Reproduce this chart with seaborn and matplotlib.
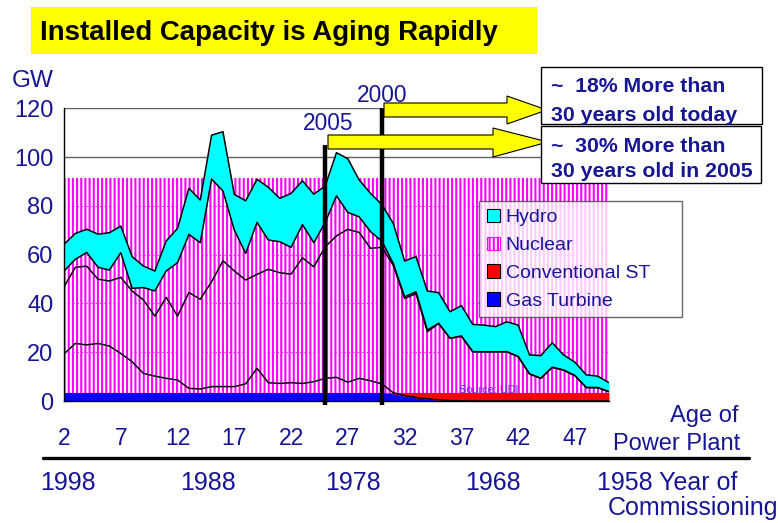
import matplotlib
matplotlib.use("Agg")
import matplotlib.pyplot as plt
import seaborn as sns
import pandas as pd
from matplotlib.patches import Patch, Polygon, Rectangle
from matplotlib.lines import Line2D

# age of power plant (years) -> capacity in GW
ages = list(range(2, 51))
hydro_top = [64.2, 68.7, 70.4, 68.4, 69.0, 71.7, 59.2, 55.3, 53.3, 65.6,
             70.8, 87.2, 82.4, 109.0, 110.4, 84.7, 82.1, 90.9, 87.6, 83.1,
             85.1, 90.3, 84.8, 88.1, 101.8, 99.3, 90.6, 85.1, 80.5, 72.8,
             57.4, 59.2, 45.1, 44.4, 36.6, 39.1, 31.4, 31.1, 30.5, 32.5,
             31.1, 18.9, 18.6, 23.9, 18.9, 15.9, 10.7, 10.2, 7.5]
hydro_bottom = [53.3, 58.1, 60.9, 54.8, 53.7, 60.8, 46.2, 46.5, 45.1, 53.3,
                56.7, 68.3, 64.9, 91.0, 86.1, 70.1, 60.5, 73.2, 66.0, 65.3,
                63.0, 72.3, 64.9, 73.2, 84.1, 77.3, 75.5, 69.4, 65.5, 56.4,
                42.7, 44.8, 29.1, 31.8, 25.7, 26.6, 20.2, 20.2, 20.2, 20.2,
                18.2, 11.1, 9.3, 13.8, 12.7, 10.4, 5.5, 5.5, 3.8]
mid_line = [46.8, 54.8, 55.3, 49.9, 49.2, 50.7, 45.1, 41.4, 34.8, 42.5,
            34.8, 44.5, 41.7, 48.9, 57.5, 53.3, 49.6, 51.9, 54.0, 52.6,
            52.0, 58.7, 55.0, 63.2, 67.7, 70.4, 69.1, 62.6, 63.0, 55.6,
            42.0, 44.0, 28.4, 31.8, 25.7, 26.6, 20.2, 20.2, 20.2, 20.2,
            18.2, 11.1, 9.3, 13.8, 12.7, 10.4, 5.5, 5.5, 3.8]
low_line = [19.3, 23.6, 23.0, 23.6, 22.5, 19.5, 16.1, 11.3, 10.2, 9.3,
            8.6, 5.2, 4.9, 5.9, 5.9, 5.9, 7.0, 13.4, 7.5, 7.2,
            7.5, 7.2, 7.9, 9.3, 9.7, 7.7, 9.3, 8.3, 7.0, 3.4,
            2.2, 1.4, 0.9, 0.5, 0.2, 0.1, 0, 0, 0, 0,
            0, 0, 0, 0, 0, 0, 0, 0, 0]
gas_band = [3.5, 3.5, 3.5, 3.5, 3.5, 3.5, 3.5, 3.5, 3.5, 3.5,
            3.5, 3.5, 3.5, 3.5, 3.5, 3.5, 3.5, 3.5, 3.5, 3.5,
            3.5, 3.5, 3.5, 3.5, 3.5, 3.5, 3.5, 3.5, 3.5, 3.0,
            2.0, 1.3, 0.8, 0.4, 0.1, 0, 0, 0, 0, 0,
            0, 0, 0, 0, 0, 0, 0, 0, 0]
conv_band = [3.5] * 49
nuclear_band = [91.5] * 49

age_ticks = [2, 7, 12, 17, 22, 27, 32, 37, 42, 47]
year_labels = ["1998", "1988", "1978", "1968"]
marker_ages = [25, 30]
marker_tops = [105, 120]
marker_years = ["2005", "2000"]
legend_labels = ["Hydro", "Nuclear", "Conventional ST", "Gas Turbine"]

df = pd.DataFrame({"age": ages, "hydro_top": hydro_top, "hydro_bottom": hydro_bottom,
                   "mid": mid_line, "low": low_line})

NAVY = "#161694"
MAG = "#ff00ff"

sns.set_style("white")
plt.rcParams["font.family"] = ["Liberation Sans", "DejaVu Sans"]
plt.rcParams["hatch.color"] = MAG
plt.rcParams["hatch.linewidth"] = 1.5

W, H = 778, 523
def fx(x):
    return x / W
def fy(y):
    return 1 - y / H

fig = plt.figure(figsize=(7.78, 5.23), dpi=100)
ax = fig.add_axes([fx(64), fy(401), (609 - 64) / W, (401 - 108.3) / H])

# nuclear hatch (drawn as a band behind everything)
ax.fill_between(ages, 0, nuclear_band, facecolor="white", edgecolor=MAG,
                hatch="||||", linewidth=0, zorder=1)
ax.hlines([20, 40, 60, 80], 2, 50, colors=MAG, linestyles=(0, (1, 3)), lw=0.8, zorder=1.2)
ax.fill_between(ages, hydro_bottom, hydro_top, color="#00ffff", lw=0, zorder=2)
ax.fill_between(ages, 0, gas_band, color="#0000ff", lw=0, zorder=2)
ax.fill_between(ages, gas_band, conv_band, color="#ff0000", lw=0, zorder=2)

for col in ["hydro_top", "hydro_bottom", "mid", "low"]:
    sns.lineplot(data=df, x="age", y=col, color="black", lw=1.1, ax=ax, zorder=3)

ax.vlines(marker_ages, -1.5, marker_tops, colors="black", lw=3.2, zorder=5, clip_on=False)

ax.set_xlim(2, 50)
ax.set_ylim(0, 120)
ax.set_xlabel("")
ax.set_ylabel("")
ax.set_xticks(age_ticks)
ax.set_xticklabels([str(a) for a in age_ticks])
ax.set_xticks(ages, minor=True)
ax.set_yticks([0, 20, 40, 60, 80, 100, 120])
ax.tick_params(axis="x", which="both", direction="out", length=4, width=1,
               color="#777777", pad=15, labelsize=16.5, labelcolor=NAVY)
ax.tick_params(axis="y", direction="out", length=4.5, width=1, color="black",
               pad=3, labelsize=17, labelcolor=NAVY)
ax.grid(axis="y", color="#606060", lw=1)
ax.set_axisbelow(True)
sns.despine(ax=ax)
for s in ["left", "bottom"]:
    ax.spines[s].set_color("black")
    ax.spines[s].set_linewidth(1)

fig.text(fx(489), fy(393), "Source: UDI", fontsize=7.8, color="#5a3cc8",
         ha="center", va="baseline", zorder=4)

# title
fig.add_artist(Rectangle((fx(31), fy(54)), (537 - 31) / W, (54 - 7) / H,
                         transform=fig.transFigure, facecolor="#ffff00", edgecolor="none"))
fig.text(fx(40), fy(40), "Installed Capacity is Aging Rapidly", fontsize=19.9,
         fontweight="bold", color="black", va="baseline")

fig.text(fx(12), fy(87), "GW", fontsize=17.5, color=NAVY, va="baseline")

# marker year labels
fig.text(fx(328), fy(130.5), marker_years[0], fontsize=16.4, color=NAVY, ha="center", va="baseline")
fig.text(fx(382), fy(101.5), marker_years[1], fontsize=16.4, color=NAVY, ha="center", va="baseline")

# arrows
arrow1 = [(384, 103), (507, 103), (507, 96), (547, 110), (507, 124), (507, 117), (384, 117)]
arrow2 = [(328, 135), (493, 135), (493, 128), (548, 142), (493, 157), (493, 149), (328, 149)]
for pts in [arrow1, arrow2]:
    fig.add_artist(Polygon([(fx(x), fy(y)) for x, y in pts], closed=True,
                           transform=fig.transFigure, facecolor="#ffff00",
                           edgecolor="black", lw=0.8, zorder=6))

# text boxes
for (x0, y0, x1, y1) in [(541, 67, 762, 124), (541, 126, 761, 183)]:
    fig.add_artist(Rectangle((fx(x0), fy(y1)), (x1 - x0) / W, (y1 - y0) / H,
                             transform=fig.transFigure, facecolor="white",
                             edgecolor="black", lw=1, zorder=6))
box_lines = [("~  18% More than", 92.3), ("30 years old today", 120.7),
             ("~  30% More than", 152.3), ("30 years old in 2005", 177.3)]
for txt, yb in box_lines:
    fig.text(fx(551), fy(yb), txt, fontsize=15.3, fontweight="bold", color=NAVY,
             va="baseline", zorder=7)

# legend
try:
    nuc_patch = Patch(facecolor="white", edgecolor="black", hatch="||||", hatchcolor=MAG, lw=0.8)
except Exception:
    nuc_patch = Patch(facecolor="white", edgecolor=MAG, hatch="||||", lw=0.8)
handles = [Patch(facecolor="#00ffff", edgecolor="black", lw=0.8), nuc_patch,
           Patch(facecolor="#ff0000", edgecolor="black", lw=0.8),
           Patch(facecolor="#0000ff", edgecolor="black", lw=0.8)]
leg = fig.legend(handles, legend_labels, loc="upper left",
                 bbox_to_anchor=(fx(479), fy(318), (682 - 479) / W, (318 - 201) / H),
                 mode="expand", frameon=True, fancybox=False, fontsize=14,
                 labelcolor=NAVY, handlelength=0.68, handleheight=0.68,
                 handletextpad=0.3, labelspacing=0.53, borderpad=0.4,
                 borderaxespad=0)
leg.get_frame().set_edgecolor("#444444")
leg.get_frame().set_linewidth(1)
leg.set_zorder(8)

# age / year axis annotations
fig.text(fx(738), fy(421.7), "Age of", fontsize=17, color=NAVY, ha="right", va="baseline")
fig.text(fx(613), fy(450), "Power Plant", fontsize=17, color=NAVY, ha="left", va="baseline")
fig.add_artist(Line2D([fx(43), fx(749)], [fy(457.7), fy(457.7)], color="black", lw=2.4,
                      transform=fig.transFigure))
for lbl, xc in zip(year_labels, [68, 207.5, 353, 492.5]):
    fig.text(fx(xc), fy(490), lbl, fontsize=18, color=NAVY, ha="center", va="baseline")
fig.text(fx(597), fy(490), "1958 Year of", fontsize=18, color=NAVY, ha="left", va="baseline")
fig.text(fx(608), fy(515), "Commissioning", fontsize=18, color=NAVY, ha="left", va="baseline")

fig.savefig("out.png", dpi=100)
